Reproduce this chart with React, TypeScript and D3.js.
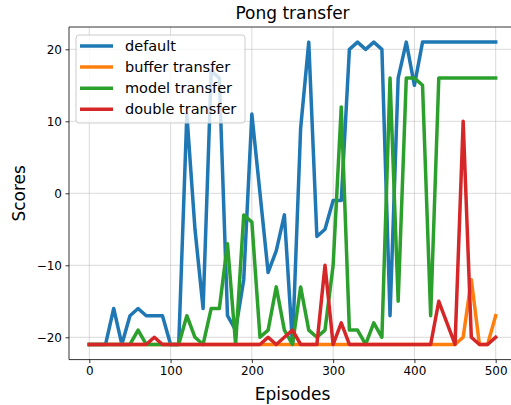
import React, { useEffect, useRef } from "react";
import * as d3 from "d3";

// episodes (every 10)
const episodes = [
  0, 10, 20, 30, 40, 50, 60, 70, 80, 90,
  100, 110, 120, 130, 140, 150, 160, 170, 180, 190,
  200, 210, 220, 230, 240, 250, 260, 270, 280, 290,
  300, 310, 320, 330, 340, 350, 360, 370, 380, 390,
  400, 410, 420, 430, 440, 450, 460, 470, 480, 490,
  500,
];

const defaultScores = [
  -21, -21, -21, -16, -21, -17, -16, -17, -17, -17,
  -21, -21, 11, -5, -16, 17, 16, -17, -19, -12,
  11, 0, -11, -8, -3, -21, 9, 21, -6, -5,
  -1, -1, 20, 21, 20, 21, 20, -17, 16, 21,
  15, 21, 21, 21, 21, 21, 21, 21, 21, 21,
  21,
];

const bufferScores = [
  -21, -21, -21, -21, -21, -21, -21, -21, -21, -21,
  -21, -21, -21, -21, -21, -21, -21, -21, -21, -21,
  -21, -21, -21, -21, -21, -21, -21, -21, -21, -21,
  -21, -21, -21, -21, -21, -21, -21, -21, -21, -21,
  -21, -21, -21, -21, -21, -21, -20, -12, -21, -21,
  -17,
];

const modelScores = [
  -21, -21, -21, -21, -21, -21, -19, -21, -21, -21,
  -21, -21, -17, -20, -21, -16, -16, -7, -21, -3,
  -4, -20, -19, -13, -19, -21, -13, -19, -20, -19,
  -10, 12, -19, -19, -21, -18, -20, 16, -15, 16,
  16, 15, -17, 16, 16, 16, 16, 16, 16, 16,
  16,
];

const doubleScores = [
  -21, -21, -21, -21, -21, -21, -21, -21, -20, -21,
  -21, -21, -21, -21, -21, -21, -21, -21, -21, -21,
  -21, -21, -20, -21, -20, -19, -21, -21, -21, -10,
  -21, -18, -21, -21, -21, -21, -21, -21, -21, -21,
  -21, -21, -21, -15, -18, -21, 10, -20, -21, -21,
  -20,
];

const seriesNames = ["default", "buffer transfer", "model transfer", "double transfer"];
const seriesValues = [defaultScores, bufferScores, modelScores, doubleScores];
const colors = ["#1f77b4", "#ff7f0e", "#2ca02c", "#d62728"];

const xTicks = [0, 100, 200, 300, 400, 500];
const yTicks = [-20, -10, 0, 10, 20];

const font = "DejaVu Sans, sans-serif";

export default function App() {
  const ref = useRef<SVGSVGElement>(null);

  useEffect(() => {
    const svg = d3.select(ref.current);
    svg.selectAll("*").remove();

    const left = 69;
    const right = 516;
    const top = 27;
    const bottom = 359.6;

    const x = d3.scaleLinear().domain([-25, 525]).range([left, right]);
    const y = d3.scaleLinear().domain([-23.1, 23.1]).range([bottom, top]);

    svg.append("rect")
      .attr("x", 0).attr("y", 0).attr("width", 511).attr("height", 405)
      .attr("fill", "white");

    // grid
    const grid = svg.append("g");
    grid.selectAll(".gx").data(xTicks).join("line")
      .attr("x1", (d) => x(d)).attr("x2", (d) => x(d))
      .attr("y1", top).attr("y2", bottom)
      .attr("stroke", "#b0b0b0").attr("stroke-opacity", 0.6).attr("stroke-width", 0.8);
    grid.selectAll(".gy").data(yTicks).join("line")
      .attr("class", "gy")
      .attr("x1", left).attr("x2", right)
      .attr("y1", (d) => y(d)).attr("y2", (d) => y(d))
      .attr("stroke", "#b0b0b0").attr("stroke-opacity", 0.6).attr("stroke-width", 0.8);

    // lines
    const line = d3.line<number>()
      .x((_, i) => x(episodes[i]))
      .y((d) => y(d));

    svg.append("g")
      .selectAll("path")
      .data(seriesValues)
      .join("path")
      .attr("d", (d) => line(d))
      .attr("fill", "none")
      .attr("stroke", (_, i) => colors[i])
      .attr("stroke-width", 3.5)
      .attr("stroke-linejoin", "round")
      .attr("stroke-linecap", "square");

    // axes
    const xAxis = svg.append("g")
      .attr("transform", `translate(0, ${bottom})`)
      .call(d3.axisBottom(x).tickValues(xTicks).tickSize(3.5).tickPadding(3.5));
    const yAxis = svg.append("g")
      .attr("transform", `translate(${left}, 0)`)
      .call(d3.axisLeft(y).tickValues(yTicks).tickSize(3.5).tickPadding(3.5)
        .tickFormat((d) => (d < 0 ? "\u2212" + Math.abs(+d) : String(d))));
    [xAxis, yAxis].forEach((a) => {
      a.select(".domain").remove();
      a.selectAll("line").attr("stroke", "black").attr("stroke-width", 0.8);
      a.selectAll("text").attr("font-family", font).attr("font-size", 12).attr("fill", "black");
    });

    // spines
    svg.append("line").attr("x1", left).attr("x2", left).attr("y1", top).attr("y2", bottom)
      .attr("stroke", "black").attr("stroke-width", 0.8);
    svg.append("line").attr("x1", left).attr("x2", right).attr("y1", bottom).attr("y2", bottom)
      .attr("stroke", "black").attr("stroke-width", 0.8);
    svg.append("line").attr("x1", left).attr("x2", right).attr("y1", top).attr("y2", top)
      .attr("stroke", "black").attr("stroke-width", 0.8);

    // labels
    svg.append("text").attr("x", (left + right) / 2).attr("y", 19)
      .attr("text-anchor", "middle").attr("font-family", font).attr("font-size", 17)
      .text("Pong transfer");
    svg.append("text").attr("x", (left + right) / 2).attr("y", 400)
      .attr("text-anchor", "middle").attr("font-family", font).attr("font-size", 17)
      .text("Episodes");
    svg.append("text")
      .attr("transform", `translate(25, ${(top + bottom) / 2}) rotate(-90)`)
      .attr("text-anchor", "middle").attr("font-family", font).attr("font-size", 17)
      .text("Scores");

    // legend
    const legend = svg.append("g");
    legend.append("rect")
      .attr("x", 76).attr("y", 35).attr("width", 169).attr("height", 88)
      .attr("rx", 3).attr("fill", "white").attr("fill-opacity", 0.8)
      .attr("stroke", "#cccccc").attr("stroke-width", 1);
    const items = legend.selectAll(".item").data(seriesNames).join("g")
      .attr("transform", (_, i) => `translate(0, ${46 + i * 21.1})`);
    items.append("line")
      .attr("x1", 80).attr("x2", 113).attr("y1", 0).attr("y2", 0)
      .attr("stroke", (_, i) => colors[i]).attr("stroke-width", 3.5);
    items.append("text")
      .attr("x", 125).attr("y", 5)
      .attr("font-family", font).attr("font-size", 14.5)
      .text((d) => d);
  }, []);

  return (
    <svg ref={ref} width={511} height={405}
      style={{ position: "absolute", left: 0, top: 0, display: "block" }} />
  );
}
